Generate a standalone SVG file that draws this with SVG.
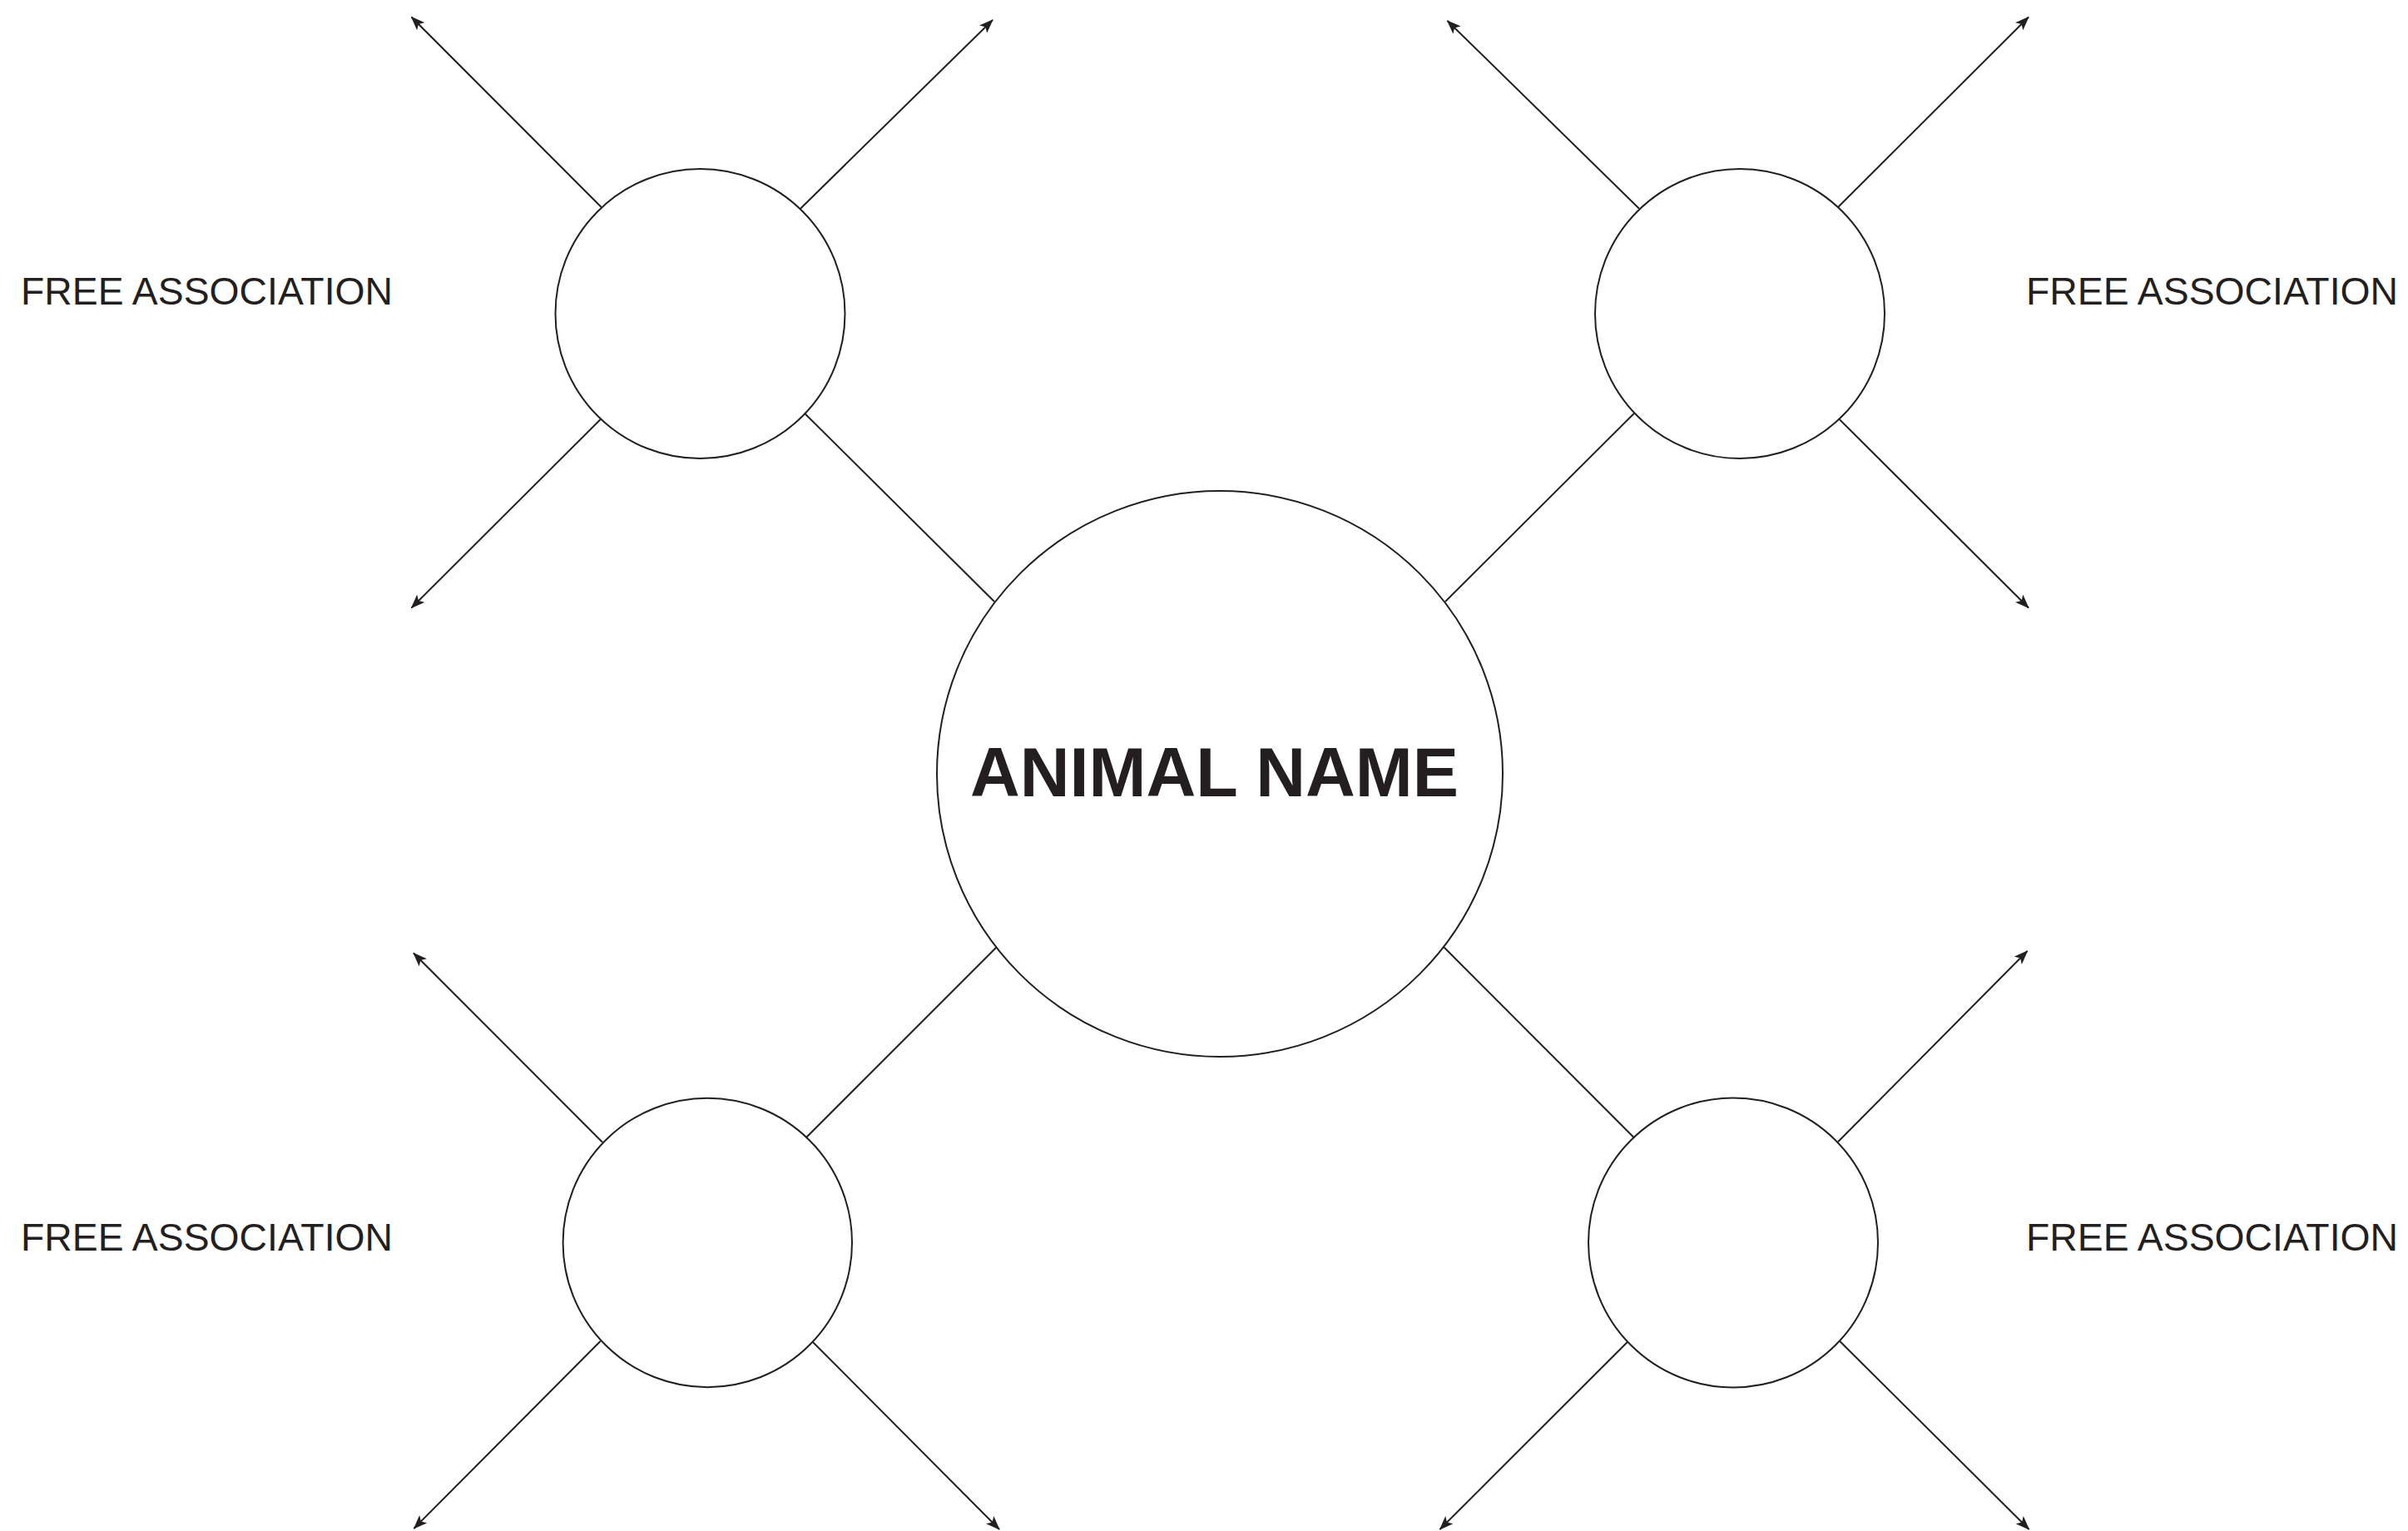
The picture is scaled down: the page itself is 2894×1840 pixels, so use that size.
<svg xmlns="http://www.w3.org/2000/svg" width="2894" height="1840" viewBox="0 0 2894 1840">
<style>
.node{fill:#ffffff;stroke:#231f20;stroke-width:2}
.conn{stroke:#231f20;stroke-width:2;fill:none}
.arrow{marker-end:url(#ah)}
.label{font-family:"Liberation Sans",Arial,sans-serif;font-size:46px;fill:#231f20}
.title{font-family:"Liberation Sans",Arial,sans-serif;font-size:84px;font-weight:700;fill:#231f20}
</style>
<defs>
<marker id="ah" viewBox="0 0 17 13" refX="16" refY="6.5" markerWidth="17" markerHeight="13" markerUnits="userSpaceOnUse" orient="auto">
<path d="M0,0 L17,6.5 L0,13 L4,6.5 Z" fill="#231f20"/>
</marker>
</defs>
<rect width="2894" height="1840" fill="#ffffff"/>
<g id="connectors">
<!-- top-left node -->
<line class="conn arrow" x1="722.7" y1="249" x2="494.5" y2="20.5"/>
<line class="conn arrow" x1="962" y1="250.7" x2="1193" y2="24"/>
<line class="conn arrow" x1="721.7" y1="504" x2="494.5" y2="730.5"/>
<line class="conn" x1="967" y1="496.7" x2="1195" y2="723"/>
<!-- top-right node -->
<line class="conn arrow" x1="1970" y1="250.7" x2="1739.5" y2="25"/>
<line class="conn arrow" x1="2209" y1="249" x2="2438" y2="20.5"/>
<line class="conn arrow" x1="2210.7" y1="504" x2="2438" y2="730.5"/>
<line class="conn" x1="1964" y1="496.7" x2="1737" y2="723"/>
<!-- bottom-left node -->
<line class="conn" x1="969.3" y1="1366.7" x2="1197.5" y2="1138.5"/>
<line class="conn arrow" x1="724" y1="1372.7" x2="497" y2="1145.5"/>
<line class="conn arrow" x1="721.7" y1="1611.7" x2="497.5" y2="1837"/>
<line class="conn arrow" x1="976.7" y1="1612.7" x2="1201" y2="1838"/>
<!-- bottom-right node -->
<line class="conn" x1="1963.3" y1="1366.7" x2="1735" y2="1138"/>
<line class="conn arrow" x1="2209" y1="1372.3" x2="2436.5" y2="1143"/>
<line class="conn arrow" x1="1956" y1="1612.7" x2="1730.5" y2="1838"/>
<line class="conn arrow" x1="2211" y1="1611.7" x2="2438.5" y2="1838"/>
</g>
<g id="node-center">
<circle class="node" cx="1466" cy="930" r="340"/>
<text class="title" x="1166" y="957" textLength="587" lengthAdjust="spacingAndGlyphs">ANIMAL NAME</text>
</g>
<g id="node-top-left"><circle class="node" cx="841.5" cy="377" r="174"/></g>
<g id="node-top-right"><circle class="node" cx="2091" cy="377" r="174"/></g>
<g id="node-bottom-left"><circle class="node" cx="850.3" cy="1493.5" r="173.7"/></g>
<g id="node-bottom-right"><circle class="node" cx="2083" cy="1493.5" r="174"/></g>
<g id="labels">
<text class="label" x="25" y="366" textLength="447" lengthAdjust="spacingAndGlyphs">FREE ASSOCIATION</text>
<text class="label" x="2435" y="366" textLength="447" lengthAdjust="spacingAndGlyphs">FREE ASSOCIATION</text>
<text class="label" x="25" y="1503" textLength="447" lengthAdjust="spacingAndGlyphs">FREE ASSOCIATION</text>
<text class="label" x="2435" y="1503" textLength="447" lengthAdjust="spacingAndGlyphs">FREE ASSOCIATION</text>
</g>
</svg>
